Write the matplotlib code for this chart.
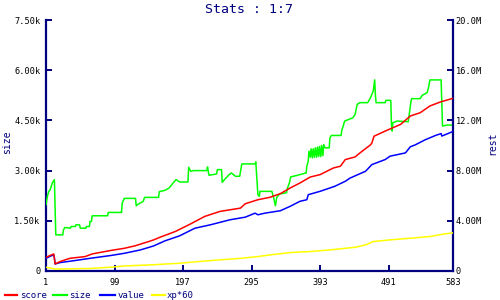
import matplotlib
matplotlib.use("Agg")
import matplotlib.pyplot as plt
from matplotlib.lines import Line2D

# ---- data ----
title = "Stats : 1:7"
x_ticks = [1, 99, 197, 295, 393, 491, 583]

size_ticks = [0, 1.5, 3.0, 4.5, 6.0, 7.5]
size_tick_labels = ["0", "1.50k", "3.00k", "4.50k", "6.00k", "7.50k"]
rest_ticks = [0, 4, 8, 12, 16, 20]
rest_tick_labels = ["0", "4.00M", "8.00M", "12.0M", "16.0M", "20.0M"]

# size (thousands), left axis
size_x = [1, 3, 5, 7, 10, 13, 14, 15, 25, 26, 28, 36, 37, 43, 44, 49, 50, 58, 59, 63, 64, 66, 67,
          89, 90, 109, 110, 113, 129, 130, 133, 140, 142, 162, 163, 171, 177, 184, 187, 192, 204,
          205, 208, 212, 231, 232, 234, 245, 246, 252, 253, 257, 263, 266, 272, 278, 281, 300, 301,
          304, 306, 307, 324, 327, 329, 331, 335, 345, 346, 349, 351, 364, 373, 374, 376, 377, 379,
          380, 382, 383, 385, 386, 388, 389, 391, 392, 394, 395, 397, 398, 400, 406, 407, 409, 423,
          424, 426, 428, 440, 443, 446, 450, 461, 465, 469, 471, 472, 473, 486, 487, 494, 495, 496,
          497, 503, 519, 523, 524, 536, 539, 546, 548, 550, 566, 568, 574, 583]
size_k = [1.98, 2.23, 2.38, 2.43, 2.63, 2.73, 1.89, 1.08, 1.08, 1.23, 1.30, 1.28, 1.33, 1.33, 1.38,
          1.38, 1.28, 1.28, 1.33, 1.33, 1.48, 1.48, 1.65, 1.65, 1.75, 1.75, 2.03, 2.17, 2.17, 1.95,
          2.00, 2.08, 2.20, 2.20, 2.37, 2.41, 2.48, 2.66, 2.73, 2.66, 2.66, 3.10, 2.98, 3.00, 3.00,
          3.11, 2.86, 2.90, 3.03, 3.03, 2.65, 2.75, 2.88, 2.93, 2.83, 2.83, 3.20, 3.20, 3.26, 2.28,
          2.23, 2.38, 2.38, 2.15, 1.95, 2.20, 2.30, 2.34, 2.46, 2.63, 2.81, 2.88, 2.93, 3.13, 3.28,
          3.58, 3.40, 3.65, 3.38, 3.65, 3.40, 3.68, 3.40, 3.70, 3.42, 3.72, 3.42, 3.75, 3.45, 3.78,
          3.68, 3.68, 3.98, 4.05, 4.05, 4.21, 4.33, 4.48, 4.58, 4.68, 4.98, 5.03, 5.03, 5.18, 5.38,
          5.71, 5.28, 5.03, 5.03, 5.10, 5.10, 4.38, 4.18, 4.43, 4.48, 4.46, 5.08, 5.15, 5.15, 5.25,
          5.33, 5.48, 5.71, 5.71, 4.33, 4.36, 4.36]

# score (millions), right axis
score_x = [1, 12, 14, 21, 35, 57, 67, 93, 113, 128, 148, 155, 164, 186, 207, 228, 250, 279, 286,
           304, 321, 336, 350, 364, 379, 393, 412, 422, 429, 443, 450, 465, 467, 470, 486, 508, 522,
           536, 550, 565, 583]
score_m = [1.09, 1.36, 0.56, 0.75, 1.01, 1.15, 1.36, 1.63, 1.81, 2.00, 2.35, 2.48, 2.69, 3.15, 3.73,
           4.35, 4.75, 5.01, 5.36, 5.68, 5.87, 6.16, 6.61, 7.01, 7.49, 7.68, 8.21, 8.35, 8.88, 9.09,
           9.41, 10.05, 10.2, 10.74, 11.15, 11.68, 12.35, 12.61, 13.15, 13.47, 13.76]

# value (millions), right axis
value_x = [1, 8, 12, 13, 14, 21, 42, 64, 93, 113, 136, 155, 171, 192, 214, 236, 264, 286, 300, 304,
           314, 336, 350, 364, 374, 376, 393, 414, 429, 436, 458, 467, 486, 493, 515, 522, 529, 543,
           558, 566, 567, 583]
value_m = [1.01, 1.20, 1.28, 1.09, 0.56, 0.67, 0.83, 1.01, 1.23, 1.41, 1.68, 2.00, 2.40, 2.80, 3.41,
           3.68, 4.08, 4.29, 4.61, 4.48, 4.61, 4.80, 5.15, 5.55, 5.68, 6.08, 6.35, 6.75, 7.15, 7.41,
           7.95, 8.48, 8.88, 9.15, 9.41, 9.90, 10.05, 10.45, 10.80, 10.95, 10.75, 11.12]

# xp*60 (millions), right axis
xp_x = [1, 14, 64, 93, 113, 155, 192, 236, 279, 304, 321, 350, 379, 407, 429, 443, 458, 469, 493,
        522, 550, 572, 583]
xp_m = [0.30, 0.16, 0.20, 0.30, 0.40, 0.50, 0.62, 0.83, 1.01, 1.15, 1.28, 1.47, 1.55, 1.68, 1.81,
        1.89, 2.08, 2.35, 2.48, 2.61, 2.75, 2.96, 3.04]

legend_labels = ["score", "size", "value", "xp*60"]

# ---- style ----
NAVY = "#000080"
C_SCORE, C_SIZE, C_VALUE, C_XP = "#ff0000", "#00ff00", "#0000ff", "#ffff00"
MONO = "DejaVu Sans Mono"
LW = 1.1

fig = plt.figure(figsize=(5, 3), dpi=100)
fig.patch.set_facecolor("white")
W, H = 500.0, 300.0
ax = fig.add_axes([46 / W, 1 - 271 / H, (453 - 46) / W, (271 - 20) / H])
ax2 = ax.twinx()

ax.plot(size_x, size_k, color=C_SIZE, lw=LW, zorder=3)
ax2.plot(xp_x, xp_m, color=C_XP, lw=LW, zorder=3)
ax2.plot(value_x, value_m, color=C_VALUE, lw=LW, zorder=3)
ax2.plot(score_x, score_m, color=C_SCORE, lw=LW, zorder=3)

ax.set_xlim(1, 583)
ax.set_ylim(0, 7.5)
ax2.set_ylim(0, 20)
ax.set_xticks(x_ticks)
ax.set_xticklabels([str(v) for v in x_ticks])
ax.set_yticks(size_ticks)
ax.set_yticklabels(size_tick_labels)
ax2.set_yticks(rest_ticks)
ax2.set_yticklabels(rest_tick_labels)

for a in (ax, ax2):
    a.set_facecolor("none")
    for s in ("top",):
        a.spines[s].set_visible(False)
    for s in ("left", "right", "bottom"):
        a.spines[s].set_color(NAVY)
        a.spines[s].set_linewidth(1.6)
    a.tick_params(direction="in", length=4, width=1.4, color=NAVY, labelcolor="black",
                  labelsize=6.2)
    for lab in a.get_xticklabels() + a.get_yticklabels():
        lab.set_family(MONO)
ax.patch.set_visible(False)
ax.tick_params(axis="y", pad=4)
ax.tick_params(axis="x", pad=5)
ax2.tick_params(axis="y", pad=2)
ax2.spines["left"].set_visible(False)
ax.spines["right"].set_visible(False)
ax2.spines["bottom"].set_visible(False)

fig.text(249 / W, 1 - 9.5 / H, title, ha="center", va="center", color=NAVY,
         family=MONO, fontsize=9.5)
fig.text(7 / W, 1 - 142 / H, "size", ha="center", va="center", rotation=90,
         color=NAVY, family=MONO, fontsize=7)
fig.text(492 / W, 1 - 143 / H, "rest", ha="center", va="center", rotation=90,
         color=NAVY, family=MONO, fontsize=7)

# legend at bottom
leg_colors = [C_SCORE, C_SIZE, C_VALUE, C_XP]
line_px = [(5, 17), (53, 67), (100, 115), (152, 165)]
text_px = [20, 69, 118, 167]
ly = 1 - 295 / H
for lab, col, (x0, x1), tx in zip(legend_labels, leg_colors, line_px, text_px):
    fig.add_artist(Line2D([x0 / W, x1 / W], [ly, ly], color=col, lw=1.6,
                          transform=fig.transFigure))
    fig.text(tx / W, ly, lab, ha="left", va="center", color=NAVY, family=MONO, fontsize=6.5)

fig.savefig("out.png", dpi=100)
